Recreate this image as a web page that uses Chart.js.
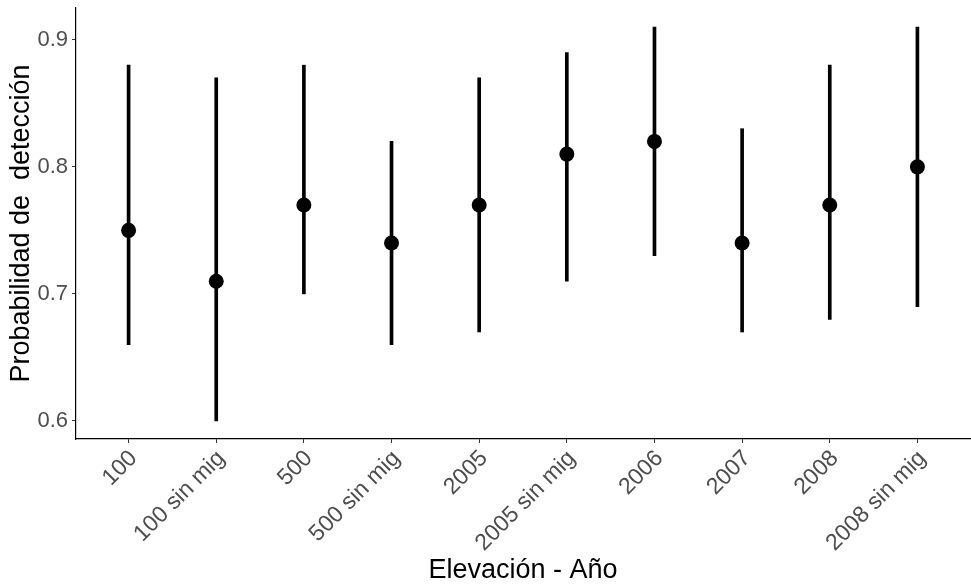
<!DOCTYPE html>
<html>
<head>
<meta charset="utf-8">
<script src="https://cdn.jsdelivr.net/npm/chart.js@4.4.0/dist/chart.umd.min.js"></script>
<style>
  html, body { margin: 0; padding: 0; background: #fff; }
  #wrap { width: 971px; height: 585px; }
</style>
</head>
<body>
<div id="wrap"><canvas id="mychart"></canvas></div>
<script>
const categorias = ['100', '100 sin mig', '500', '500 sin mig', '2005', '2005 sin mig', '2006', '2007', '2008', '2008 sin mig'];
const estimados = [0.75, 0.71, 0.77, 0.74, 0.77, 0.81, 0.82, 0.74, 0.77, 0.80];
const inferior = [0.66, 0.60, 0.70, 0.66, 0.67, 0.71, 0.73, 0.67, 0.68, 0.69];
const superior = [0.88, 0.87, 0.88, 0.82, 0.87, 0.89, 0.91, 0.83, 0.88, 0.91];
const yTicks = [0.6, 0.7, 0.8, 0.9];

const fuente = "'Liberation Sans', Arial, sans-serif";

const canvas = document.getElementById('mychart');
const grafico1 = new Chart(canvas, {
    data: {
        datasets: [
            {
                type: 'bar',
                data: categorias.map((c, i) => ({ x: i, y: [inferior[i], superior[i]] })),
                backgroundColor: '#000',
                barThickness: 3,
                order: 2
            },
            {
                type: 'line',
                data: categorias.map((c, i) => ({ x: i, y: estimados[i] })),
                showLine: false,
                pointRadius: 7.5,
                pointBackgroundColor: '#000',
                pointBorderWidth: 0,
                order: 1
            }
        ]
    },
    options: {
        responsive: true,
        maintainAspectRatio: false,
        animation: false,
        layout: { autoPadding: false, padding: { top: 8, right: 1, left: 0, bottom: 0 } },
        plugins: { legend: { display: false }, tooltip: { enabled: false } },
        scales: {
            x: {
                type: 'linear',
                min: -0.6,
                max: 9.6,
                offset: false,
                afterBuildTicks: s => { s.ticks = categorias.map((c, i) => ({ value: i })); },
                afterFit: s => { s.height = 146; s.paddingLeft = 0; s.paddingRight = 0; },
                ticks: {
                    callback: v => categorias[v],
                    minRotation: 45,
                    maxRotation: 45,
                    autoSkip: false,
                    padding: 2,
                    labelOffset: 5,
                    color: '#4d4d4d',
                    font: { family: fuente, size: 23 }
                },
                grid: { offset: false, drawOnChartArea: false, drawTicks: true, tickLength: 4, color: '#333', lineWidth: 1 },
                border: { display: true, color: '#000', width: 1.2 },
                title: {
                    display: true,
                    text: 'Elevación - Año',
                    color: '#000',
                    font: { family: fuente, size: 27, lineHeight: 1.1 },
                    padding: { top: 0, bottom: 0 }
                }
            },
            y: {
                min: 0.5858,
                max: 0.925,
                afterBuildTicks: s => { s.ticks = yTicks.map(v => ({ value: v })); },
                afterFit: s => { s.width = 76; s.paddingTop = 0; s.paddingBottom = 0; },
                ticks: {
                    callback: v => v.toFixed(1),
                    padding: 4,
                    color: '#4d4d4d',
                    font: { family: fuente, size: 22 }
                },
                grid: { drawOnChartArea: false, drawTicks: true, tickLength: 4, color: '#333', lineWidth: 1 },
                border: { display: true, color: '#000', width: 1.2 },
                title: {
                    display: true,
                    text: 'Probabilidad de  detección',
                    color: '#000',
                    font: { family: fuente, size: 27, lineHeight: 1.1 },
                    padding: { top: 7, bottom: 0 }
                }
            }
        }
    }
});
</script>
</body>
</html>
